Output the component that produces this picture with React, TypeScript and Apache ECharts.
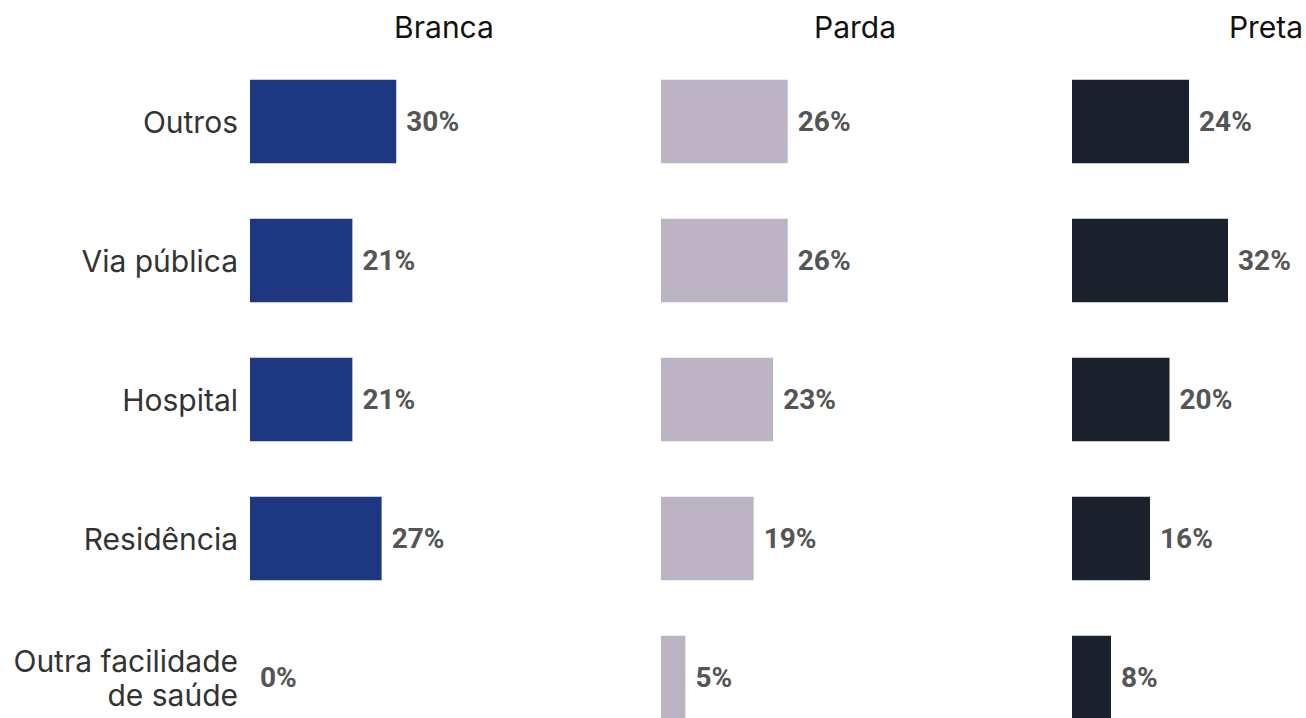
import React, { useEffect, useRef } from "react";
import * as echarts from "echarts";

const categories = ["Outros", "Via pública", "Hospital", "Residência", "Outra facilidade\nde saúde"];
const panelTitles = ["Branca", "Parda", "Preta"];
const brancaValues = [30, 21, 21, 27, 0];
const pardaValues = [26, 26, 23, 19, 5];
const pretaValues = [24, 32, 20, 16, 8];
const panelColors = ["#1e3781", "#bcb4c4", "#1b202d"];

const panelLefts = [250, 661, 1072];
const panelWidth = 390;
const xMax = 80;

export default function App() {
  const ref = useRef<HTMLDivElement>(null);
  useEffect(() => {
    if (!ref.current) return;
    const chart = echarts.init(ref.current, null, { renderer: "svg" });
    const seriesData = [brancaValues, pardaValues, pretaValues];
    const grids = panelLefts.map((left) => ({
      left,
      width: panelWidth,
      top: 52,
      bottom: 13,
      containLabel: false,
    }));
    const xAxes = panelLefts.map((_, i) => ({
      type: "value",
      gridIndex: i,
      min: 0,
      max: xMax,
      show: false,
    }));
    const yAxes = panelLefts.map((_, i) => ({
      type: "category",
      gridIndex: i,
      data: categories,
      inverse: true,
      axisLine: { show: false },
      axisTick: { show: false },
      axisLabel: {
        show: i === 0,
        margin: 12,
        fontFamily: "Inter, Roboto, sans-serif",
        fontSize: 30,
        lineHeight: 34,
        color: "#333333",
        align: "right",
      },
    }));
    const titles = panelTitles.map((t, i) => ({
      text: t,
      left: panelLefts[i] + 189,
      top: 7,
      textAlign: "center",
      textStyle: {
        fontFamily: "Inter, Roboto, sans-serif",
        fontSize: 30,
        fontWeight: "normal",
        color: "#111111",
      },
    }));
    const series = seriesData.map((data, i) => ({
      type: "bar",
      xAxisIndex: i,
      yAxisIndex: i,
      data,
      barWidth: "60%",
      itemStyle: { color: panelColors[i] },
      label: {
        show: true,
        position: "right",
        distance: 10,
        formatter: "{c}%",
        fontFamily: "Roboto, 'Liberation Sans Narrow', sans-serif",
        fontWeight: "bold",
        fontSize: 28,
        color: "#555555",
      },
    }));
    chart.setOption({
      animation: false,
      backgroundColor: "#ffffff",
      title: titles,
      grid: grids,
      xAxis: xAxes,
      yAxis: yAxes,
      series,
    });
    return () => chart.dispose();
  }, []);
  return (
    <div
      ref={ref}
      style={{ position: "fixed", left: 0, top: 0, width: 1500, height: 760 }}
    />
  );
}
